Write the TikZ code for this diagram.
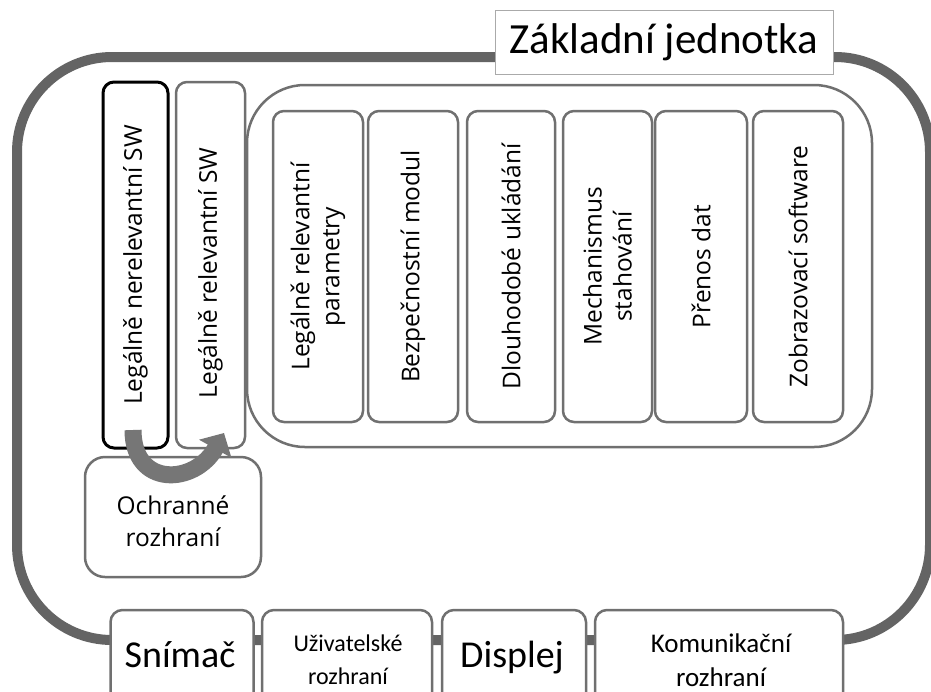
\documentclass[tikz,border=0pt]{standalone}
\usepackage{fontspec}
\setmainfont{Open Sans}
\newfontfamily\calfont{Carlito}
\usetikzlibrary{arrows.meta}
\definecolor{framegray}{RGB}{100,100,100}
\definecolor{boxgray}{RGB}{112,112,112}
\definecolor{arrowgray}{RGB}{118,118,118}
\definecolor{titlegray}{RGB}{170,170,170}
\tikzset{
  vbox/.style={draw=boxgray, line width=2.5pt, fill=white, rounded corners=11pt, rotate=90,
    inner sep=0pt, align=center, font=\fontsize{24.5}{30}\selectfont},
  hbox/.style={draw=boxgray, line width=2.5pt, fill=white, rounded corners=12pt,
    inner sep=0pt, align=center},
  btext/.style={inner sep=0pt, align=center, anchor=base},
}
\begin{document}
\begin{tikzpicture}[x=1pt,y=-1pt]
\useasboundingbox (0,0) rectangle (931,691);
\clip (0,0) rectangle (931,691);
\fill[white] (0,0) rectangle (931,691);
% outer frame
\draw[framegray, line width=10pt, rounded corners=95pt] (17,57) rectangle (930,640);
% title
\node[draw=titlegray, line width=1pt, fill=white, minimum width=338pt, minimum height=64pt,
  inner sep=0pt, font=\calfont\fontsize{43}{50}\selectfont] (title) at (664,42) {Základní jednotka};
% container
\node[draw=boxgray, line width=2.5pt, rounded corners=58pt, minimum width=625pt, minimum height=362pt,
  inner sep=0pt] (cont) at (559.5,266) {};
% left column boxes
\node[vbox, draw=black, line width=3pt, minimum width=366pt, minimum height=65pt] (nerel) at (135.5,265)
  {Legálně nerelevantní SW};
\node[vbox, minimum width=366pt, minimum height=69pt] (rel) at (210.5,265)
  {Legálně relevantní SW\hspace*{16pt}};
% inner modules
\node[vbox, minimum width=311pt, minimum height=90pt] (m1) at (318,266.5) {Legálně relevantní\\parametry};
\node[vbox, minimum width=311pt, minimum height=90pt] (m2) at (413,266.5) {Bezpečnostní modul};
\node[vbox, minimum width=311pt, minimum height=88pt] (m3) at (511,266.5) {Dlouhodobé ukládání};
\node[vbox, minimum width=311pt, minimum height=89pt] (m4) at (607.5,266.5) {Mechanismus\\stahování};
\node[vbox, minimum width=311pt, minimum height=92pt] (m5) at (701,266.5) {Přenos dat};
\node[vbox, minimum width=311pt, minimum height=90pt] (m6) at (798,266.5) {Zobrazovací software};
% protection interface
\node[hbox, rounded corners=20pt, minimum width=176pt, minimum height=120pt] (och) at (173,517) {};
\node[btext, font=\fontsize{24.5}{32}\selectfont] (och-t) at (173,546) {Ochranné\\rozhraní};
% curved arrow
\coordinate (a1) at (133,430);
\coordinate (a2) at (224,433);
\draw[arrowgray, line width=17pt, -{Triangle[length=18pt,width=36pt]}]
  (a1) .. controls (133,488) and (195,485) .. (a2);
% bottom row boxes
\node[hbox, minimum width=143pt, minimum height=106pt] (sn) at (182,663) {};
\node[hbox, minimum width=170pt, minimum height=106pt] (uz) at (347,663) {};
\node[hbox, minimum width=144pt, minimum height=106pt] (di) at (514,663) {};
\node[hbox, minimum width=248pt, minimum height=106pt] (ko) at (719,663) {};
% bottom row texts
\node[btext, font=\calfont\fontsize{38}{40}\selectfont] (sn-t) at (180,667) {Snímač};
\node[btext, font=\calfont\fontsize{24}{33}\selectfont] (uz-t) at (348,684) {Uživatelské\\rozhraní};
\node[btext, font=\calfont\fontsize{38}{40}\selectfont] (di-t) at (512,667) {Displej};
\node[btext, font=\calfont\fontsize{27}{34}\selectfont] (ko-t) at (721,686) {Komunikační\\rozhraní};
\end{tikzpicture}
\end{document}
